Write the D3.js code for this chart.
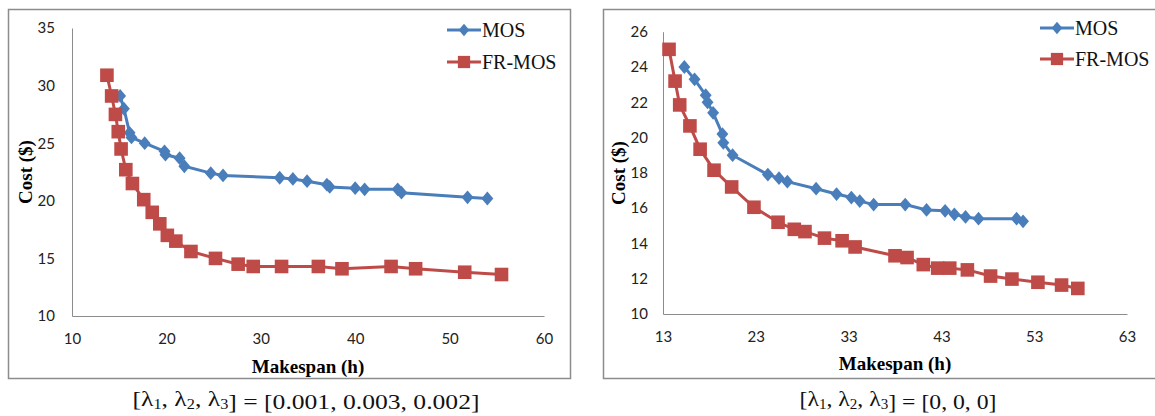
<!DOCTYPE html>
<html>
<head>
<meta charset="utf-8">
<script src="https://cdn.jsdelivr.net/npm/d3@7"></script>
<style>
  body { margin: 0; background: #fff; }
  svg { display: block; }
</style>
</head>
<body>
<div id="chart"></div>
<script>
// ---- data: [makespan (h), cost ($)] ----
var leftMOS = [[15.1,29.1],[15.5,28.0],[16.1,25.9],[16.3,25.5],[17.7,25.0],[19.8,24.3],[19.9,24.0],
  [21.4,23.7],[21.9,23.0],[24.7,22.4],[26.0,22.2],[32.0,22.0],[33.4,21.9],[34.9,21.7],[37.0,21.4],
  [37.3,21.2],[40.0,21.1],[41.0,21.0],[44.5,21.0],[44.9,20.7],[51.9,20.3],[54.0,20.2]];
var leftFRMOS = [[13.7,30.9],[14.2,29.1],[14.6,27.5],[14.9,26.0],[15.2,24.5],[15.7,22.7],[16.4,21.5],
  [17.6,20.1],[18.5,19.0],[19.3,18.0],[20.1,17.0],[21.0,16.5],[22.6,15.6],[25.2,15.0],[27.6,14.5],
  [29.2,14.3],[32.2,14.3],[36.1,14.3],[38.6,14.1],[43.8,14.3],[46.4,14.1],[51.6,13.8],[55.5,13.6]];
var rightMOS = [[15.3,24.0],[16.4,23.3],[17.6,22.4],[17.8,22.0],[18.4,21.4],[19.4,20.2],[19.5,19.7],
  [20.5,19.0],[24.3,17.9],[25.5,17.7],[26.4,17.5],[29.5,17.1],[31.7,16.8],[33.3,16.6],[34.2,16.4],
  [35.7,16.2],[39.1,16.2],[41.4,15.9],[43.4,15.85],[44.4,15.65],[45.6,15.5],[47.0,15.4],[51.1,15.4],[51.8,15.25]];
var rightFRMOS = [[13.65,25.0],[14.3,23.2],[14.8,21.85],[15.9,20.66],[17.0,19.34],[18.5,18.15],[20.4,17.2],
  [22.8,16.05],[25.4,15.2],[27.15,14.8],[28.3,14.67],[30.4,14.3],[32.3,14.15],[33.7,13.8],[38.0,13.3],
  [39.3,13.2],[41.05,12.8],[42.6,12.6],[43.9,12.6],[45.8,12.5],[48.3,12.15],[50.6,11.98],[53.4,11.8],
  [55.95,11.64],[57.7,11.45]];

var leftXTicks = [10, 20, 30, 40, 50, 60];
var leftYTicks = [10, 15, 20, 25, 30, 35];
var rightXTicks = [13, 23, 33, 43, 53, 63];
var rightYTicks = [10, 12, 14, 16, 18, 20, 22, 24, 26];
var seriesNames = ["MOS", "FR-MOS"];
var leftCaption = ["0.001", "0.003", "0.002"];
var rightCaption = ["0", "0", "0"];

var colors = { MOS: "#4A7EBB", "FR-MOS": "#BE4B48" };
var serif = "'Liberation Serif', 'Times New Roman', serif";

var svg = d3.select("#chart").append("svg")
  .attr("width", 1155)
  .attr("height", 416);

var panel = {
  draw: function(o) {
    var g = svg.append("g");

    // outer frame
    g.append("rect")
      .attr("x", o.frame[0] + 0.5).attr("y", o.frame[1] + 0.5)
      .attr("width", o.frame[2]).attr("height", o.frame[3])
      .attr("fill", "#fff").attr("stroke", "#8c8c8c").attr("stroke-width", 1.5);

    var x = d3.scaleLinear().domain(o.xDomain).range([o.plot.left, o.plot.right]);
    var y = d3.scaleLinear().domain(o.yDomain).range([o.plot.bottom, o.plot.top]);

    // axes (no tick marks, gray lines)
    var xAxis = g.append("g")
      .attr("transform", "translate(0," + o.plot.bottom + ")")
      .call(d3.axisBottom(x).tickValues(o.xTicks).tickSize(0).tickPadding(17));
    var yAxis = g.append("g")
      .attr("transform", "translate(" + o.plot.left + ",0)")
      .call(d3.axisLeft(y).tickValues(o.yTicks).tickSize(0).tickPadding(o.yPad));
    [xAxis, yAxis].forEach(function(a) {
      a.select(".domain").attr("stroke", "#8c8c8c").attr("stroke-width", 1);
      a.selectAll("text")
        .attr("font-family", "Lato, 'Open Sans', sans-serif")
        .attr("font-size", 15).attr("fill", "#222");
    });

    // axis titles
    g.append("text")
      .attr("x", (o.plot.left + o.plot.right) / 2).attr("y", o.xTitleY)
      .attr("text-anchor", "middle")
      .attr("font-family", serif)
      .attr("font-weight", "bold").attr("font-size", 19)
      .text("Makespan (h)");
    g.append("text")
      .attr("transform", "translate(" + o.yTitleX + "," + o.yTitleY + ") rotate(-90)")
      .attr("text-anchor", "middle").attr("dy", "0.35em")
      .attr("font-family", serif)
      .attr("font-weight", "bold").attr("font-size", 19)
      .text("Cost ($)");

    var line = d3.line()
      .x(function(d) { return x(d[0]); })
      .y(function(d) { return y(d[1]); });

    var series = [{ name: "MOS", data: o.mos }, { name: "FR-MOS", data: o.fr }];
    series.forEach(function(s) {
      g.append("path")
        .datum(s.data)
        .attr("d", line)
        .attr("fill", "none")
        .attr("stroke", colors[s.name])
        .attr("stroke-width", 3);
      panel.markers(g, s.name, s.data.map(function(d) { return [x(d[0]), y(d[1])]; }), 1);
    });

    // legend
    seriesNames.forEach(function(name, i) {
      var ly = o.legend[1] + i * o.legend[2];
      var lx = o.legend[0];
      g.append("line")
        .attr("x1", lx).attr("x2", lx + 34)
        .attr("y1", ly).attr("y2", ly)
        .attr("stroke", colors[name]).attr("stroke-width", 3);
      panel.markers(g, name, [[lx + 17, ly]], 0.9);
      g.append("text")
        .attr("x", lx + 35).attr("y", ly).attr("dy", "0.35em")
        .attr("font-family", serif)
        .attr("font-size", 20).attr("fill", "#111")
        .text(name);
    });

    // caption under the panel
    var cap = svg.append("text")
      .attr("x", o.caption[0]).attr("y", o.caption[1])
      .attr("text-anchor", "middle")
      .attr("font-family", serif)
      .attr("font-size", 22).attr("fill", "#111");
    cap.append("tspan").text("[");
    [1, 2, 3].forEach(function(k, i) {
      cap.append("tspan").text("\u03bb");
      cap.append("tspan").attr("font-size", 14).attr("dy", 3).text(k);
      cap.append("tspan").attr("dy", -3).text(i < 2 ? ", " : "");
    });
    cap.append("tspan").text("] = [" + o.capValues.join(", ") + "]");
    cap.attr("textLength", o.caption[2]).attr("lengthAdjust", "spacingAndGlyphs");
  },
  markers: function(g, name, pts, k) {
    if (name == "MOS") {
      g.selectAll(null).data(pts).enter().append("path")
        .attr("d", d3.symbol(d3.symbolDiamond2, 100 * k * k)())
        .attr("transform", function(p) { return "translate(" + p[0] + "," + p[1] + ") scale(0.95,1.1)"; })
        .attr("fill", colors[name]);
    } else {
      var h = 6.8 * k;
      g.selectAll(null).data(pts).enter().append("rect")
        .attr("x", function(p) { return p[0] - h; })
        .attr("y", function(p) { return p[1] - h; })
        .attr("width", 2 * h).attr("height", 2 * h)
        .attr("fill", colors[name]);
    }
  }
};

panel.draw({
  frame: [8, 9, 562, 369],
  plot: { left: 72, right: 544, top: 28, bottom: 316 },
  xDomain: [10, 60], yDomain: [10, 35],
  xTicks: leftXTicks, yTicks: leftYTicks, yPad: 17,
  xTitleY: 373, yTitleX: 25, yTitleY: 172,
  mos: leftMOS, fr: leftFRMOS,
  legend: [447, 30, 32],
  caption: [306, 406, 347], capValues: leftCaption
});

panel.draw({
  frame: [603, 9, 560, 369],
  plot: { left: 663, right: 1127, top: 31.7, bottom: 314 },
  xDomain: [13, 63], yDomain: [10, 26],
  xTicks: rightXTicks, yTicks: rightYTicks, yPad: 15,
  xTitleY: 370, yTitleX: 618, yTitleY: 173,
  mos: rightMOS, fr: rightFRMOS,
  legend: [1040, 28, 31],
  caption: [898, 406, 197], capValues: rightCaption
});
</script>
</body>
</html>
